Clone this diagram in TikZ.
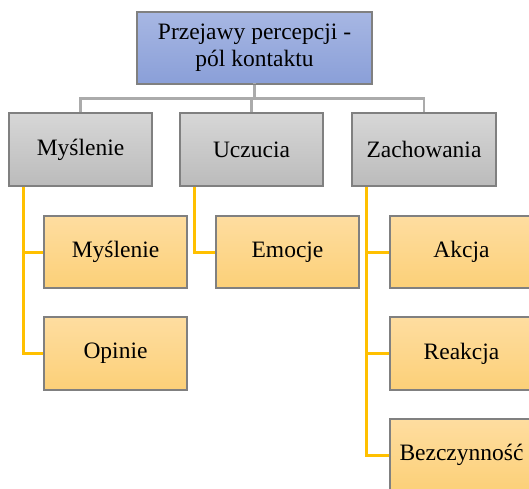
\documentclass[tikz,border=0pt]{standalone}
\usepackage{fontspec}
\setmainfont{Liberation Serif}
\begin{document}
\begin{tikzpicture}[x=1pt,y=1pt,
  box/.style={draw=black!50, line width=1.2pt, minimum width=143pt, minimum height=72pt,
    inner sep=1pt, font=\fontsize{23.5}{27}\selectfont, align=center},
  topbox/.style={box, minimum width=235pt, top color=topA, bottom color=topB},
  midbox/.style={box, top color=midA, bottom color=midB},
  leafbox/.style={box, top color=leafA, bottom color=leafB},
  grayline/.style={draw=lineGray, line width=2.6pt, line cap=rect},
  yelline/.style={draw=lineYel, line width=3pt, line cap=rect}]
\definecolor{topA}{HTML}{A7B7E3}
\definecolor{topB}{HTML}{8A9FD8}
\definecolor{midA}{HTML}{D7D7D7}
\definecolor{midB}{HTML}{BBBBBB}
\definecolor{leafA}{HTML}{FEDDA0}
\definecolor{leafB}{HTML}{FCD078}
\definecolor{lineGray}{HTML}{ABABAB}
\definecolor{lineYel}{HTML}{FFC000}
\clip (0,0) rectangle (529,488);
\fill[white] (0,0) rectangle (529,488);
% nodes
\node[topbox] (top) at (254.5,440) {Przejawy percepcji -\\pól kontaktu};
\node[midbox, minimum height=73pt] (m1) at (80.5,338.5) {Myślenie};
\node[midbox, minimum height=73pt] (m2) at (251.5,338.5) {Uczucia};
\node[midbox, minimum height=73pt] (m3) at (424,338.5) {Zachowania};
\node[leafbox] (s1) at (115.5,236) {Myślenie};
\node[leafbox] (s2) at (115.5,134.5) {Opinie};
\node[leafbox] (e1) at (287.5,236) {Emocje};
\node[leafbox] (a1) at (461.5,236) {Akcja};
\node[leafbox] (a2) at (461.5,134.5) {Reakcja};
\node[leafbox] (a3) at (461.5,33) {Bezczynność};
% gray connectors
\draw[grayline] (top.south) -- ++(0,-14) coordinate (hub);
\draw[grayline, line cap=butt] (m1.north) |- (hub) -| (m3.north);
\draw[grayline, line cap=butt] (hub) -| (m2.north);
% yellow connectors
\draw[yelline, line cap=butt] ([xshift=15pt]m1.south west) |- (s2.west);
\draw[yelline, line cap=butt] (s1.west) -| ([xshift=15pt]m1.south west);
\draw[yelline, line cap=butt] ([xshift=15pt]m2.south west) |- (e1.west);
\draw[yelline, line cap=butt] ([xshift=15pt]m3.south west) |- (a3.west);
\draw[yelline, line cap=butt] (a1.west) -| ([xshift=15pt]m3.south west);
\draw[yelline, line cap=butt] (a2.west) -| ([xshift=15pt]m3.south west);
% redraw borders on top of connector ends
\foreach \n in {top,m1,m2,m3,s1,s2,e1,a1,a2,a3}{
  \draw[draw=black!50, line width=1.2pt] (\n.south west) rectangle (\n.north east);
}
\end{tikzpicture}
\end{document}
